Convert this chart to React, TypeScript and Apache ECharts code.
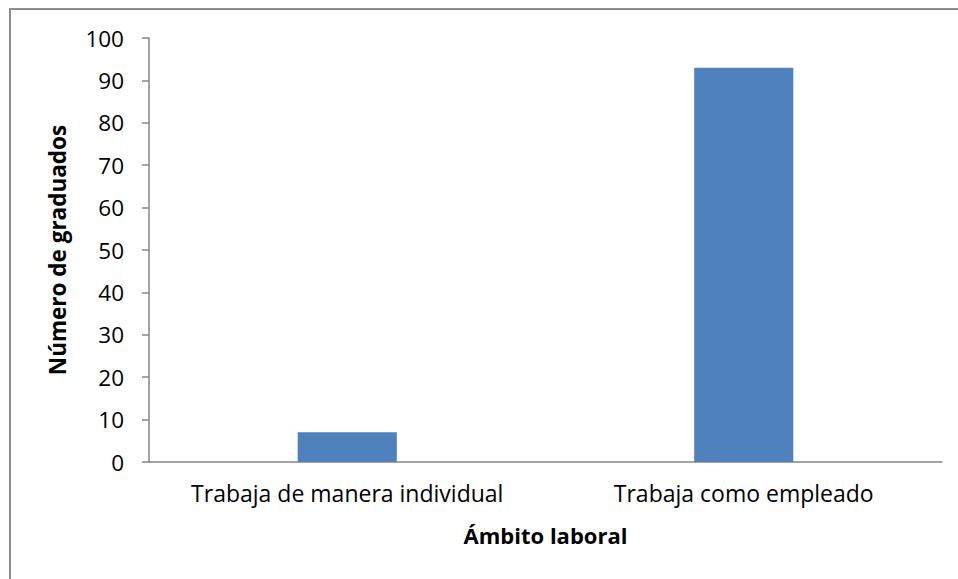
import React, { useEffect, useRef } from "react";
import * as echarts from "echarts";

const categories = ["Trabaja de manera individual", "Trabaja como empleado"];
const values = [7, 93];
const yTitle = "Número de graduados";
const xTitle = "Ámbito laboral";

export default function App() {
  const ref = useRef<HTMLDivElement>(null);
  useEffect(() => {
    const chart = echarts.init(ref.current!, null, { renderer: "svg" });
    const font = "'Open Sans', sans-serif";
    chart.setOption({
      animation: false,
      backgroundColor: "#ffffff",
      graphic: [
        {
          type: "rect",
          shape: { x: 10, y: 9, width: 1200, height: 1200 },
          style: { fill: "none", stroke: "#8c8c8c", lineWidth: 2 },
          silent: true,
        },
      ],
      grid: { left: 149, right: 16, top: 38, bottom: 117, containLabel: false },
      xAxis: {
        type: "category",
        data: categories,
        axisLine: { show: true, lineStyle: { color: "#868686", width: 1.5 } },
        axisTick: { show: false },
        axisLabel: {
          color: "#000",
          fontSize: 23,
          fontFamily: font,
          margin: 19,
          interval: 0,
          hideOverlap: false,
        },
        name: xTitle,
        nameLocation: "middle",
        nameGap: 62,
        nameTextStyle: { color: "#000", fontSize: 22, fontWeight: "bold", fontFamily: font },
      },
      yAxis: {
        type: "value",
        min: 0,
        max: 100,
        interval: 10,
        axisLine: { show: true, lineStyle: { color: "#868686", width: 1.5 } },
        axisTick: { show: true, length: 7, lineStyle: { color: "#868686", width: 1.5 } },
        splitLine: { show: false },
        axisLabel: { color: "#000", fontSize: 22.5, fontFamily: font, margin: 25 },
        name: yTitle,
        nameLocation: "middle",
        nameGap: 80,
        nameRotate: 90,
        nameTextStyle: { color: "#000", fontSize: 22.5, fontWeight: "bold", fontFamily: font },
      },
      series: [
        {
          type: "bar",
          data: values,
          barWidth: "25%",
          itemStyle: { color: "#4f81bd" },
        },
      ],
    });
    return () => chart.dispose();
  }, []);
  return (
    <div
      ref={ref}
      style={{ position: "fixed", left: 0, top: 0, width: 958, height: 579 }}
    />
  );
}
